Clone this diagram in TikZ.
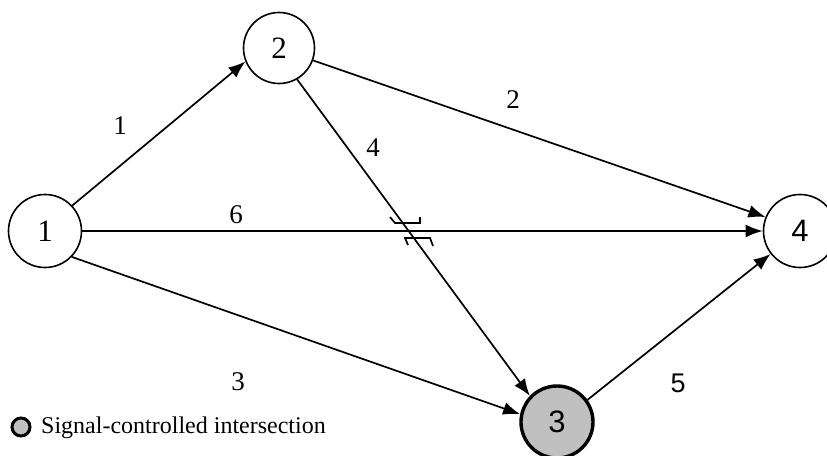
\documentclass[tikz,border=0pt]{standalone}
\usepackage{fontspec}
\setmainfont{Liberation Serif}
\newfontfamily\arialf{Liberation Sans}
\usetikzlibrary{arrows.meta}
\definecolor{sil}{RGB}{192,192,192}
\begin{document}
\begin{tikzpicture}[x=1pt,y=-1pt, font=\fontsize{24}{28}\selectfont,
 nd/.style={circle,draw,line width=1.6pt,fill=white,inner sep=0pt,minimum size=73pt,font=\fontsize{31}{34}\selectfont},
 sig/.style={nd,fill=sil,line width=3.4pt,minimum size=72pt},
 lnk/.style={line width=1.7pt,-{Latex[length=17pt,width=13pt]}},
 lbl/.style={inner sep=0pt,font=\fontsize{27}{30}\selectfont},
 brg/.style={line width=1.7pt}]
\useasboundingbox (0,0) rectangle (827,455);
\begin{scope}
\clip (0,0) rectangle (827,455);
\node[nd] (n1) at (45,231) {1};
\node[nd,minimum size=71pt] (n2) at (279,48) {2};
\node[nd] (n4) at (800,231) {\arialf 4};
\node[sig] (n3) at (557,422) {\arialf 3};
\node[sig,minimum size=18pt,line width=3pt] (lg) at (21,427) {};
\end{scope}
\node[inner sep=0pt,anchor=west] (lgt) at (41,428) {Signal-controlled intersection};
% links
\draw[lnk] (n1.43) -- (n2.-158);
\draw[lnk] (n1.0) -- (n4.180);
\draw[lnk] (n1.-44) -- (n3.168);
\draw[lnk] (n2.-20) -- (n4.158);
\draw[lnk] (n2.-60) -- (n3.136);
\draw[lnk] (n3.36) -- (n4.-142);
% bridge symbol
\draw[brg] (390,217) -- (395,223) -- (420,223) -- (420,217);
\draw[brg] (408,245) -- (405,238) -- (430,238) -- (433,246);
% labels
\node[lbl] (l1) at (120,126) {1};
\node[lbl] (l2) at (513,100) {2};
\node[lbl] (l4) at (373,148) {4};
\node[lbl] (l6) at (236,215) {6};
\node[lbl] (l3) at (238,382) {3};
\node[lbl] (l5) at (678,383) {\arialf 5};
\end{tikzpicture}
\end{document}
